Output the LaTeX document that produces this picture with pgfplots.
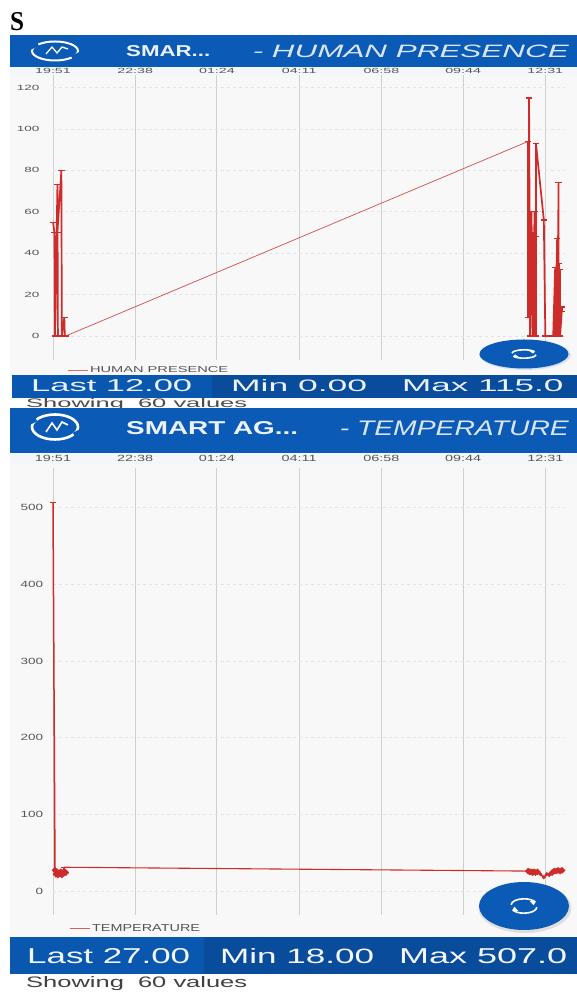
\documentclass[border=0pt]{standalone}
\usepackage{pgfplots}
\pgfplotsset{compat=1.18}
\usepackage{fontspec}
\setmainfont{Liberation Sans}
\newfontfamily\serifb{Liberation Serif}
\definecolor{hdr}{HTML}{0B5AB5}
\definecolor{barl}{HTML}{0A57B0}
\definecolor{barr}{HTML}{0A4C9C}
\definecolor{pan}{HTML}{F8F8F8}
\definecolor{strip}{HTML}{F4F7FA}
\definecolor{red1}{HTML}{CE2B2B}
\definecolor{gridv}{HTML}{CFCFCF}
\definecolor{gridh}{HTML}{E3E3E3}
\definecolor{txt}{HTML}{555555}
\newcommand{\fit}[3]{\resizebox{#1pt}{#2pt}{#3}}
\pgfplotsset{
  app/.style={
    scale only axis, width=512pt, xmin=0, xmax=1040,
    axis line style={draw=none}, tick style={draw=none},
    xtick={0,167,333,500,667,833,1000},
    xticklabels={19:51,22:38,01:24,04:11,06:58,09:44,12:31},
    xticklabel pos=top, grid=major,
    xmajorgrids, ymajorgrids,
    x grid style={gridv,line width=0.9pt},
    y grid style={gridh,dashed,line width=0.7pt},
    /pgf/number format/assume math mode=true,
    tick label style={text=txt},
    legend cell align=left,
    legend image code/.code={\draw[#1] (0pt,0pt)--(12pt,0pt); \path (0pt,0pt)--(20pt,0pt);},
    legend style={draw=none,fill=none,font=\fontsize{9}{9}\selectfont\color{txt}},
  },
  ser/.style={red1,line width=1.7pt,mark=-,mark size=3.2pt,mark options={red1,line width=1.2pt,solid}},
  blob/.style={red1,line width=2.4pt,mark=*,mark size=1.7pt,mark options={red1,solid}},
  thinser/.style={red1!85,line width=0.7pt,forget plot},
}
\newcommand{\refreshicon}[4]{%
  \begin{scope}[shift={(#1,#2)},xscale=#3,yscale=#4]
    \draw[white,line width=1.6pt,-] (-8,1) arc[start angle=180,end angle=30,x radius=8,y radius=5];
    \draw[white,line width=1.6pt,-] (8,-1) arc[start angle=0,end angle=-150,x radius=8,y radius=5];
    \fill[white] (7.5,3.8)--(3.5,4.2)--(6,0.6)--cycle;
    \fill[white] (-7.5,-3.8)--(-3.5,-4.2)--(-6,-0.6)--cycle;
  \end{scope}}
\begin{document}
\begin{tikzpicture}[x=1pt,y=1pt]
\path[use as bounding box,fill=white] (0,0) rectangle (577,992);
% panels
\fill[pan] (10,592) rectangle (577,925);
\fill[pan] (10,55) rectangle (577,539);
\fill[strip] (10,917) rectangle (577,925);
\fill[strip] (10,527) rectangle (577,539);

\begin{axis}[app, at={(53pt,632pt)}, anchor=south west, height=285pt,
   clip=false,
   ymin=-11.6, ymax=126.1, ytick={0,20,...,120},
   tick label style={font=\fontsize{7.5}{8}\selectfont},
   xticklabel style={anchor=center,yshift=4pt,xscale=1.9},
   yticklabel style={xscale=1.8,xshift=-4pt},
   legend style={at={(axis cs:23,-16.5)},anchor=west,font=\fontsize{7.5}{8}\selectfont\color{txt}}]
\addplot[ser,forget plot] coordinates {(0,55)(3,50)(4,0)(9,73)(10,0)(9,50)(17,80)(18,0)(23,9)(24,0)(26,0)};
\addplot[thinser] coordinates {(26,0)(965,94)};
\addplot[ser,forget plot] coordinates {(965,94)(965,9)(967,115)(969,0)(972,60)(974,0)(974,50)(976,16)(978,60)(978,0)(980,48)(981,0)(981,93)(997,56)(1000,0)(1016,0)(1020,33)(1020,0)(1024,47)(1024,0)(1027,74)(1027,0)(1028,35)(1026,0)(1030,32)(1030,0)(1034,14)(1034,12)};
\addlegendimage{red1!70,line width=0.6pt}
\addlegendentry{\fit{138}{6}{HUMAN PRESENCE}}
\end{axis}

\begin{axis}[app, at={(53pt,77pt)}, anchor=south west, height=447pt,
   clip=false,
   ymin=-31.3, ymax=552, ytick={0,100,...,500},
   tick label style={font=\fontsize{9}{9}\selectfont},
   xticklabel style={anchor=center,yshift=10pt,xscale=1.6},
   yticklabel style={xscale=1.5,xshift=-3pt},
   legend style={at={(axis cs:27,-49)},anchor=west}]
\addplot[red1,line width=1.5pt,mark=-,mark size=3pt,forget plot,mark options={red1,line width=1.5pt,solid}] coordinates {(0,507)(4,27)};
\addplot[blob,forget plot] coordinates {(4,27)(6,22)(8,25)(10,21)(12,24)(14,22)(16,25)(18,21)(20,24)(22,23)(24,25)(26,24)};
\addplot[ser,forget plot] coordinates {(22,24)(22,31)};
\addplot[red1,line width=1.1pt,forget plot] coordinates {(22,31)(965,26)};
\addplot[blob,forget plot] coordinates {(965,26)(968,25)(971,25)(974,24)(977,25)(980,24)(984,25)};
\addplot[red1,line width=1.4pt,mark=*,mark size=1.2pt,mark options={red1,solid},forget plot] coordinates {(984,25)(990,22)(997,18)(1003,22)(1008,21)(1014,24)};
\addplot[blob,forget plot] coordinates {(1014,24)(1018,26)(1022,26)(1026,27)(1030,26)(1034,27)};
\addlegendimage{red1!75,line width=0.6pt}
\addlegendentry{\fit{108}{7}{TEMPERATURE}}
\end{axis}

% Title letter
\node[anchor=south west,inner sep=0pt] at (10,961) {\fit{14}{18}{\serifb\bfseries S}};

% Chart 1 chrome
\fill[hdr] (10,925) rectangle (577,957);
\draw[white,line width=2pt] (55,941) ellipse[x radius=23,y radius=9.5];
\draw[hdr,line width=4pt] (38,948)--(30,944) (72,934)--(80,938);
\draw[white,line width=1.3pt] (46,938)--(52,945)--(57,939)--(62,945)--(68,943);
\node[anchor=west,inner sep=0pt] at (126,941) {\fit{84}{11}{\color{white!92!hdr}\bfseries SMAR...}};
\node[anchor=east,inner sep=0pt] at (569,941) {\fit{316}{12.5}{\color{white!85!hdr}\itshape - HUMAN PRESENCE}};
\fill[barl] (12,594) rectangle (212,617);
\fill[barr] (212,594) rectangle (577,617);
\node[anchor=west,inner sep=0pt] at (31,606) {\fit{161}{12}{\color{white!92!hdr}Last 12.00}};
\node[anchor=west,inner sep=0pt] at (231,606) {\fit{136}{12}{\color{white!92!hdr}Min 0.00}};
\node[anchor=west,inner sep=0pt] at (402,606) {\fit{161}{12}{\color{white!92!hdr}Max 115.0}};
\node[anchor=west,inner sep=0pt] at (26,588) {\fit{221}{9}{\color{black!70}Showing\ \ 60 values}};
\fill[hdr!85!black,opacity=0.12] (525,637) ellipse[x radius=46,y radius=15];
\fill[hdr] (524,638) ellipse[x radius=44.5,y radius=14.5];
\refreshicon{524}{638}{1.5}{0.7}

% Chart 2 chrome
\fill[hdr] (10,539) rectangle (577,584);
\draw[white,line width=2.6pt] (55,565) ellipse[x radius=23,y radius=12.5];
\draw[hdr,line width=5pt] (36,573)--(28,569) (74,557)--(82,561);
\draw[white,line width=1.6pt] (46,560)--(52,569)--(57,562)--(62,570)--(68,567);
\node[anchor=west,inner sep=0pt] at (126,564) {\fit{172}{13}{\color{white!92!hdr}\bfseries SMART AG...}};
\node[anchor=east,inner sep=0pt] at (569,564) {\fit{229}{14.5}{\color{white!85!hdr}\itshape - TEMPERATURE}};
\fill[barl] (10,18) rectangle (204,55);
\fill[barr] (204,18) rectangle (577,55);
\node[anchor=west,inner sep=0pt] at (27,36) {\fit{163}{15}{\color{white!95!hdr}Last 27.00}};
\node[anchor=west,inner sep=0pt] at (220,36) {\fit{154}{15}{\color{white!95!hdr}Min 18.00}};
\node[anchor=west,inner sep=0pt] at (399,36) {\fit{168}{15}{\color{white!95!hdr}Max 507.0}};
\node[anchor=west,inner sep=0pt] at (26,8) {\fit{221}{11}{\color{black!75}Showing\ \ 60 values}};
\fill[black,opacity=0.10] (525,84) ellipse[x radius=46.5,y radius=25];
\fill[hdr] (524,86) ellipse[x radius=45,y radius=24];
\refreshicon{524}{86}{1.6}{1.2}
\end{tikzpicture}
\end{document}
